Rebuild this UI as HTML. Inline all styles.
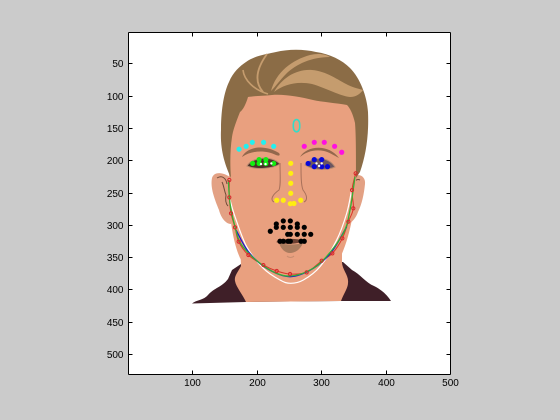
<!DOCTYPE html>
<html>
<head>
<meta charset="utf-8">
<title>Facial landmarks chart</title>
<style>
html,body{margin:0;padding:0;width:560px;height:420px;overflow:hidden;background:#cbcbcb}
svg{display:block}
text{font-family:"Liberation Sans",sans-serif;font-size:10px;fill:#000}
</style>
</head>
<body>
<svg id="chart" width="560" height="420" viewBox="0 0 560 420" xmlns="http://www.w3.org/2000/svg">
  <rect x="0" y="0" width="560" height="420" fill="#cbcbcb"/>
  <rect x="128.5" y="32.5" width="322" height="342" fill="#fff"/>
  <g id="face">
    <path fill="#3f1f28" d="M192 303.5 C196 300 204 300 208 295 C214 288 222 287 228 279 L232 270 L241 264 L343 262 L352 270 C360 274 366 283 374 286 C382 290 387 295 391 301 L340 301 L246 302 Z"/>
    <path fill="#e9a07f" d="M240 238 L241 266 C238 272 234 276 235 281 C236 287 243 295 246 302 L341 301 C344 293 348 288 348 283 C349 275 342 270 342 262 L342 238 Z"/>
    <path fill="#e3a184" d="M231 178 C224 172 214 171 212 178 C210 188 215 200 219 210 C221 218 226 224 231 224 Z"/>
    <path fill="#e3a184" d="M352 178 C358 172 366 176 365 184 C364 194 362 204 358 212 C356 218 352 222 349 224 Z"/>
    <path fill="none" stroke="#6f4a38" stroke-width="1" d="M217 178 C222 175 226 178 227 184 M222 182 C224 186 224 190 226 195 C225 201 226 204 228 206"/>
    <path fill="none" stroke="#6f4a38" stroke-width="1" d="M360 180 C356 178 354 182 353 186"/>
    <path fill="#e9a07f" d="M229 178 L231 88 L358 88 L356 178 C356 205 350 240 338 262 C326 282 306 286 290 286 C268 286 252 278 240 258 C232 240 228 210 229 178 Z"/>
    <path fill="#8b6c46" d="M231 178 C225 165 220 150 221 130 C221 110 224 92 229 82 C233 72 240 66 246 62 C256 55 268 54 276 52 C288 49 304 49 316 52 C330 54 342 60 350 68 C360 78 367 96 368 112 C369 135 366 155 360 172 L356 178 C356 155 356 135 355 123 C353 114 350 108 347 105 C336 103 322 102 313 100 C300 97 285 94 272 95 C262 96 254 96 248 97 C246 104 243 110 240 112 C236 122 233 130 232 137 C230 150 230 165 231 178 Z"/>
    <path fill="none" stroke="#c59c6e" stroke-width="1.6" d="M243 70 C244 80 254 90 268 94"/>
    <path fill="none" stroke="#c59c6e" stroke-width="1.8" d="M263 92 C256 84 254 72 267 54"/>
    <path fill="#c59c6e" d="M271 91 C276 72 292 60 310 55 C318 53 326 54 330 57 C312 57 296 64 286 74 C280 80 276 86 271 91 Z"/>
    <path fill="#c59c6e" d="M274 92 C282 78 296 69 312 70 C326 71 338 80 348 85 C354 88 360 89 363 90 C360 94 356 97 350 97 C340 96 326 88 312 84 C298 81 284 84 274 92 Z"/>
    <path fill="#93684c" d="M242 157 C246 148 262 143 279 153 C281 156 278 156 276 155 C266 150 252 150 242 157 Z"/>
    <path fill="#93684c" d="M300 157 C306 146 328 143 339 158 C333 155 329 152 324 151 C314 149 306 152 300 157 Z"/>
    <path fill="#4a3028" stroke="#b98a70" stroke-width="1" d="M247 166 C252 157 272 155 280 164 C272 169 256 170 247 166 Z"/>
    <path fill="#6a5660" stroke="#b98a70" stroke-width="1" d="M305 165 C312 156 328 156 335 167 C326 171 312 170 305 165 Z"/>
    <path fill="none" stroke="#a8705a" stroke-width="1" d="M280 163 C280 175 281 185 279 190 C272 195 270 200 274 202 M301 163 C301 175 301 185 303 190 C307 195 308 200 304 202"/>
    <path fill="#6b4032" d="M276 242 C284 238 296 238 305 241 C298 244 284 245 276 242 Z"/>
    <path fill="#a97b5e" d="M279 243 C286 245 296 245 303 243 C300 250 295 253 290 253 C285 253 281 249 279 243 Z"/>
    <path fill="none" stroke="#c98d70" stroke-width="1" d="M287 256 C289 258 292 258 294 256"/>
  </g>
  <g id="marks"></g>
  <g id="axes"></g>
</svg>
<script>
// Axis values
var xTicks = [100, 200, 300, 400, 500];
var yTicks = [50, 100, 150, 200, 250, 300, 350, 400, 450, 500];

// Landmark series, in image coordinates (x, y)
var browLeftX = [173, 184, 193.5, 211, 226.6];
var browLeftY = [183, 178.5, 172.3, 172.3, 178.5];
var browRightX = [274, 289.5, 305, 321, 332];
var browRightY = [178.5, 172.3, 172.3, 178.5, 187.7];
var noseX = [253, 253, 253, 253, 231.3, 241.5, 252.4, 258, 268.5];
var noseY = [204.8, 220.3, 235.7, 251.2, 262, 262, 267.3, 267, 262];
var eyeLeftX = [194, 204, 204, 214.5, 214.5, 226.6];
var eyeLeftY = [205, 199, 205, 199, 205, 205];
var eyeRightX = [280, 289.5, 301, 289.5, 301, 310];
var eyeRightY = [205, 199, 199, 210, 210, 210];
var mouthX = [221.4, 230.7, 230.7, 241.5, 241.5, 252.4, 252.4, 263.2, 263.2, 274, 248.3, 252.4, 263.2, 274, 284, 236.4, 241.5, 249, 252.4, 269, 274];
var mouthY = [310, 298.8, 303.9, 294, 303.9, 294, 303.9, 298.8, 303.9, 303.9, 314.7, 314.7, 314.7, 314.7, 314.7, 325.5, 325.5, 325.5, 325.5, 325.5, 325.5];
var foreheadX = [262, 266, 267, 266, 262, 258, 257, 258];
var foreheadY = [137, 140, 147, 153, 156, 153, 147, 140];
var jawWhiteX = [159, 166.7, 184.8, 210.6, 236.4, 253, 272.6, 298.4, 324.2, 339.7, 347.4];
var jawWhiteY = [261.6, 287.4, 333.9, 367.4, 385.5, 390.6, 385.5, 364.8, 323.6, 282.3, 246.2];
var jawGreenX = [156.4, 159, 166.7, 177, 205.4, 231.3, 251.9, 277.7, 303.6, 334.5, 344.9, 352.6];
var jawGreenY = [230.7, 266.8, 302.9, 331.3, 359.7, 375.2, 379.3, 372.6, 354.5, 313.2, 277.1, 225.5];
var jawBlueX = [168.3, 187.4, 215.8, 251.9, 288, 316.5, 339.7];
var jawBlueY = [308.1, 341.6, 367.4, 380.3, 367.4, 341.6, 302.9];
var jawRedX = [157.9, 157.9, 160.5, 166.7, 172.4, 187.4, 210.6, 231.3, 251.9, 277.7, 301, 317.5, 333, 342.3, 350, 348, 353.6];
var jawRedY = [230.7, 257.5, 282.3, 304, 326.1, 346.8, 362.3, 371.5, 376.2, 373.6, 355.6, 344.2, 321, 295.2, 274.5, 246.2, 220.4];
var eyeHighlightX = [207, 214, 223];
var eyeHighlightY = [206, 206, 205];
var eyeRightHighlightX = [293, 297, 301];
var eyeRightHighlightY = [205, 209, 205];

var NS = 'http://www.w3.org/2000/svg';
function sx(v) { return 127.4 + 0.6455 * v; }
function sy(v) { return 31 + 0.646 * v; }
var marks = document.getElementById('marks');
var axes = document.getElementById('axes');

function smoothPath(xs, ys, closed) {
  var n = xs.length, d = 'M' + sx(xs[0]).toFixed(2) + ' ' + sy(ys[0]).toFixed(2);
  var last = closed ? n : n - 1;
  for (var i = 0; i < last; i++) {
    var a = closed ? (i - 1 + n) % n : Math.max(i - 1, 0);
    var b = i;
    var c = closed ? (i + 1) % n : i + 1;
    var e = closed ? (i + 2) % n : Math.min(i + 2, n - 1);
    var c1x = sx(xs[b]) + (sx(xs[c]) - sx(xs[a])) / 6;
    var c1y = sy(ys[b]) + (sy(ys[c]) - sy(ys[a])) / 6;
    var c2x = sx(xs[c]) - (sx(xs[e]) - sx(xs[b])) / 6;
    var c2y = sy(ys[c]) - (sy(ys[e]) - sy(ys[b])) / 6;
    d += 'C' + c1x.toFixed(2) + ' ' + c1y.toFixed(2) + ' ' + c2x.toFixed(2) + ' ' + c2y.toFixed(2) + ' ' + sx(xs[c]).toFixed(2) + ' ' + sy(ys[c]).toFixed(2);
  }
  return d + (closed ? 'Z' : '');
}

function drawCurve(name, xs, ys, color, width, closed) {
  var p = document.createElementNS(NS, 'path');
  
  
  p.setAttribute('d', smoothPath(xs, ys, closed));
  p.setAttribute('fill', 'none');
  p.setAttribute('stroke', color);
  p.setAttribute('stroke-width', width);
  marks.appendChild(p);
}

function drawDots(name, xs, ys, fill, r, stroke) {
  for (var i = 0; i < xs.length; i++) {
    var c = document.createElementNS(NS, 'circle');
    
    
    c.setAttribute('cx', sx(xs[i]).toFixed(2));
    c.setAttribute('cy', sy(ys[i]).toFixed(2));
    c.setAttribute('r', r);
    c.setAttribute('fill', fill);
    if (stroke) {
      c.setAttribute('stroke', stroke);
      c.setAttribute('stroke-width', '1');
    }
    marks.appendChild(c);
  }
}

drawCurve('jaw-curve-white', jawWhiteX, jawWhiteY, '#ffffff', 1.2, false);
drawCurve('jaw-curve-red', jawRedX, jawRedY, '#d8352a', 1, false);
drawCurve('jaw-curve-blue', jawBlueX, jawBlueY, '#1a1ad0', 1.3, false);
drawCurve('jaw-curve-green', jawGreenX, jawGreenY, '#35b035', 1.3, false);
drawDots('jaw-point', jawRedX, jawRedY, 'none', 1.6, '#d8252a');
drawCurve('forehead-ring', foreheadX, foreheadY, '#33dcc8', 1.6, true);
drawDots('left-brow-point', browLeftX, browLeftY, '#22f0f0', 2.6);
drawDots('right-brow-point', browRightX, browRightY, '#ff10e0', 2.6);
drawDots('nose-point', noseX, noseY, '#ffee10', 2.6);
drawDots('left-eye-point', eyeLeftX, eyeLeftY, '#10ee10', 2.6);
drawDots('left-eye-highlight', eyeHighlightX, eyeHighlightY, '#ffffff', 1.2);
drawDots('right-eye-point', eyeRightX, eyeRightY, '#0808d8', 2.6);
drawDots('right-eye-highlight', eyeRightHighlightX, eyeRightHighlightY, '#ffffff', 1.2);
drawDots('mouth-point', mouthX, mouthY, '#000000', 2.6);

function axisLine(name, x1, y1, x2, y2) {
  var l = document.createElementNS(NS, 'line');
  
  
  l.setAttribute('x1', x1);
  l.setAttribute('y1', y1);
  l.setAttribute('x2', x2);
  l.setAttribute('y2', y2);
  l.setAttribute('stroke', '#000');
  l.setAttribute('stroke-width', '1');
  axes.appendChild(l);
}

var L = 128.5, R = 450.5, T = 32.5, B = 374.5;
axisLine('axis-left', L, T, L, B);
axisLine('axis-right', R, T, R, B);
axisLine('axis-top', L, T, R, T);
axisLine('axis-bottom', L, B, R, B);

xTicks.forEach(function (v) {
  var x = Math.round(sx(v)) + 0.5;
  axisLine('x-tick-bottom', x, B, x, B - 4);
  axisLine('x-tick-top', x, T, x, T + 4);
  var t = document.createElementNS(NS, 'text');
  
  
  t.setAttribute('x', x);
  t.setAttribute('y', 386);
  t.setAttribute('text-anchor', 'middle');
  t.textContent = v;
  axes.appendChild(t);
});

yTicks.forEach(function (v) {
  var y = Math.round(sy(v)) + 0.5;
  axisLine('y-tick-left', L, y, L + 4, y);
  axisLine('y-tick-right', R, y, R - 4, y);
  var t = document.createElementNS(NS, 'text');
  
  
  t.setAttribute('x', 123.5);
  t.setAttribute('y', y + 3.5);
  t.setAttribute('text-anchor', 'end');
  t.textContent = v;
  axes.appendChild(t);
});
</script>
</body>
</html>
